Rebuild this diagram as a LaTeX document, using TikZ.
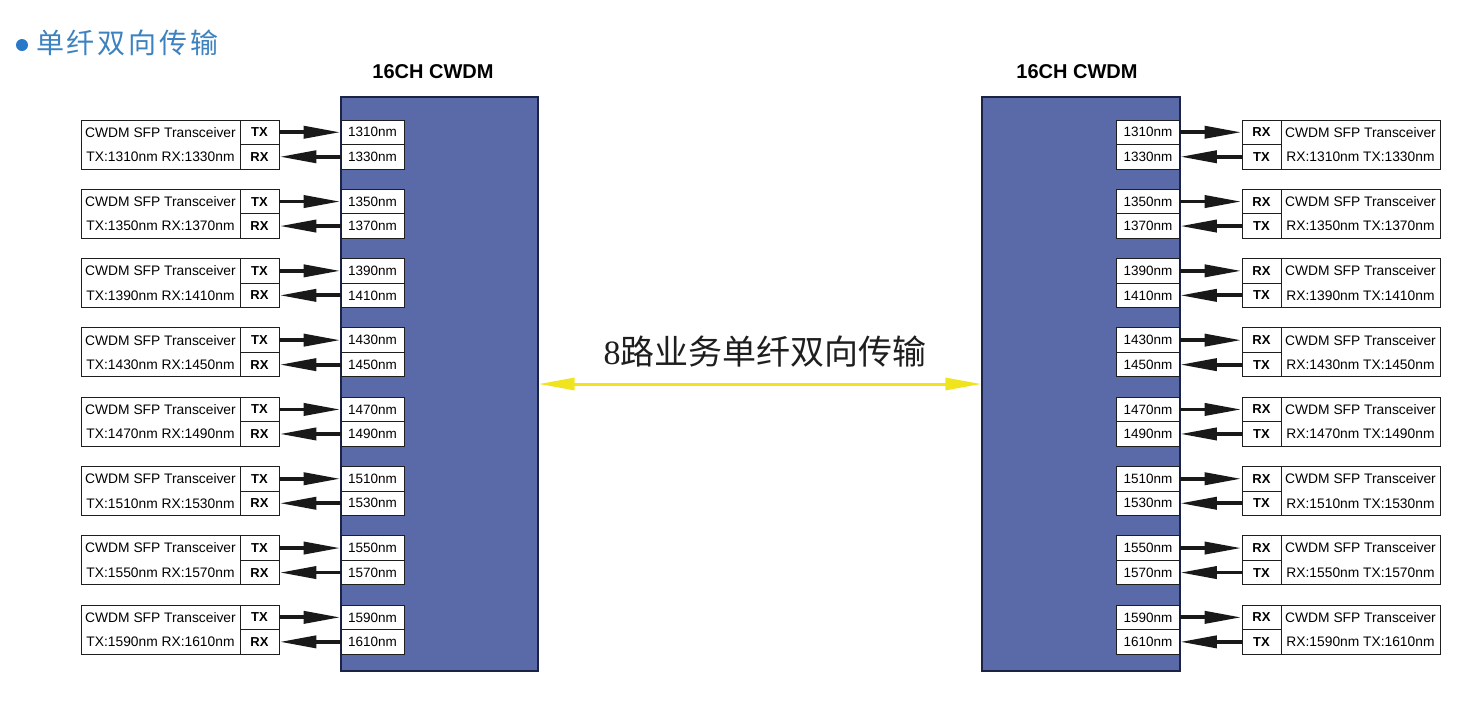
\documentclass[tikz,border=0pt]{standalone}
\usepackage{fontspec}
\setmainfont{Liberation Sans}
\newfontfamily\cjk{Noto Sans CJK SC}
\newfontfamily\cjkwide[LetterSpace=10]{Noto Sans CJK SC}
\newfontfamily\serifnum{Liberation Serif}
\usetikzlibrary{arrows.meta}
\definecolor{cwdmfill}{RGB}{90,106,168}
\definecolor{cwdmline}{RGB}{28,36,70}
\definecolor{titleblue}{RGB}{60,130,192}
\definecolor{bulletblue}{RGB}{40,122,200}
\definecolor{yellowarrow}{RGB}{240,228,30}
\definecolor{cellline}{RGB}{30,30,30}
\definecolor{labeltext}{RGB}{30,30,30}
\begin{document}
\begin{tikzpicture}[x=1pt,y=-1pt,
  cwdm/.style={draw=cwdmline,line width=1.2pt,fill=cwdmfill,minimum height=574pt,inner sep=0pt},
  cell/.style={draw=cellline,line width=0.9pt,fill=white,inner sep=0pt,text=black},
  wcell/.style={cell,minimum width=63pt,minimum height=24.5pt,font=\fontsize{13.5}{14}\selectfont},
  tcell/.style={cell,minimum width=39pt,minimum height=24.5pt,font=\fontsize{13}{14}\selectfont\bfseries},
  ncell/.style={cell,minimum width=159pt,minimum height=49pt,align=center,font=\fontsize{13.8}{24.5}\selectfont},
  fiber/.style={line width=3.8pt,draw=black!90,-{Triangle[length=37pt,width=12pt]}},
  yarrow/.style={line width=3pt,draw=yellowarrow,{Triangle[length=36pt,width=12pt]}-{Triangle[length=36pt,width=12pt]}},
  head/.style={font=\fontsize{20}{24}\selectfont\bfseries,inner sep=0pt}
]
\useasboundingbox (0,0) rectangle (1478,705);

% title
\node[circle,fill=bulletblue,minimum size=12pt,inner sep=0pt] (bullet) at (22,45) {};
\node[anchor=west,inner sep=0pt,text=titleblue,font=\fontsize{28}{30}\selectfont\cjkwide] (title) at (36,43) {单纤双向传输};

% CWDM boxes
\node[cwdm,minimum width=197pt] (LC) at (439.5,384) {};
\node[cwdm,minimum width=198pt] (RC) at (1081,384) {};
\node[head] (LH) at (433,72) {16CH CWDM};
\node[head] (RH) at (1077,72) {16CH CWDM};

\foreach \i in {0,...,7}{
  \pgfmathsetmacro{\top}{120+69.3*\i}
  \pgfmathsetmacro{\yt}{\top+12.25}
  \pgfmathsetmacro{\yb}{\top+36.75}
  \pgfmathsetmacro{\ym}{\top+24.5}
  \pgfmathtruncatemacro{\wa}{1310+40*\i}
  \pgfmathtruncatemacro{\wb}{1330+40*\i}
  % left side
  \node[ncell] (LN\i) at (160.5,\ym) {CWDM SFP Transceiver\\TX:\wa nm RX:\wb nm};
  \node[tcell] (LT\i) at (259.5,\yt) {TX};
  \node[tcell] (LR\i) at (259.5,\yb) {RX};
  \node[wcell] (LA\i) at (372.5,\yt) {\wa nm};
  \node[wcell] (LB\i) at (372.5,\yb) {\wb nm};
  \draw[fiber] (LT\i) -- (LA\i);
  \draw[fiber] (LB\i) -- (LR\i);
  % right side
  \node[wcell] (RA\i) at (1148,\yt) {\wa nm};
  \node[wcell] (RB\i) at (1148,\yb) {\wb nm};
  \node[tcell] (RR\i) at (1261.5,\yt) {RX};
  \node[tcell] (RT\i) at (1261.5,\yb) {TX};
  \node[ncell] (RN\i) at (1360.5,\ym) {CWDM SFP Transceiver\\RX:\wa nm TX:\wb nm};
  \draw[fiber] (RA\i) -- (RR\i);
  \draw[fiber] (RT\i) -- (RB\i);
}

% center link
\draw[yarrow] (LC.east) -- (RC.west);
\node[text=labeltext,font=\fontsize{34}{36}\selectfont,inner sep=0pt] (link) at (765,352) {{\serifnum 8}\cjk 路业务单纤双向传输};
\end{tikzpicture}
\end{document}
